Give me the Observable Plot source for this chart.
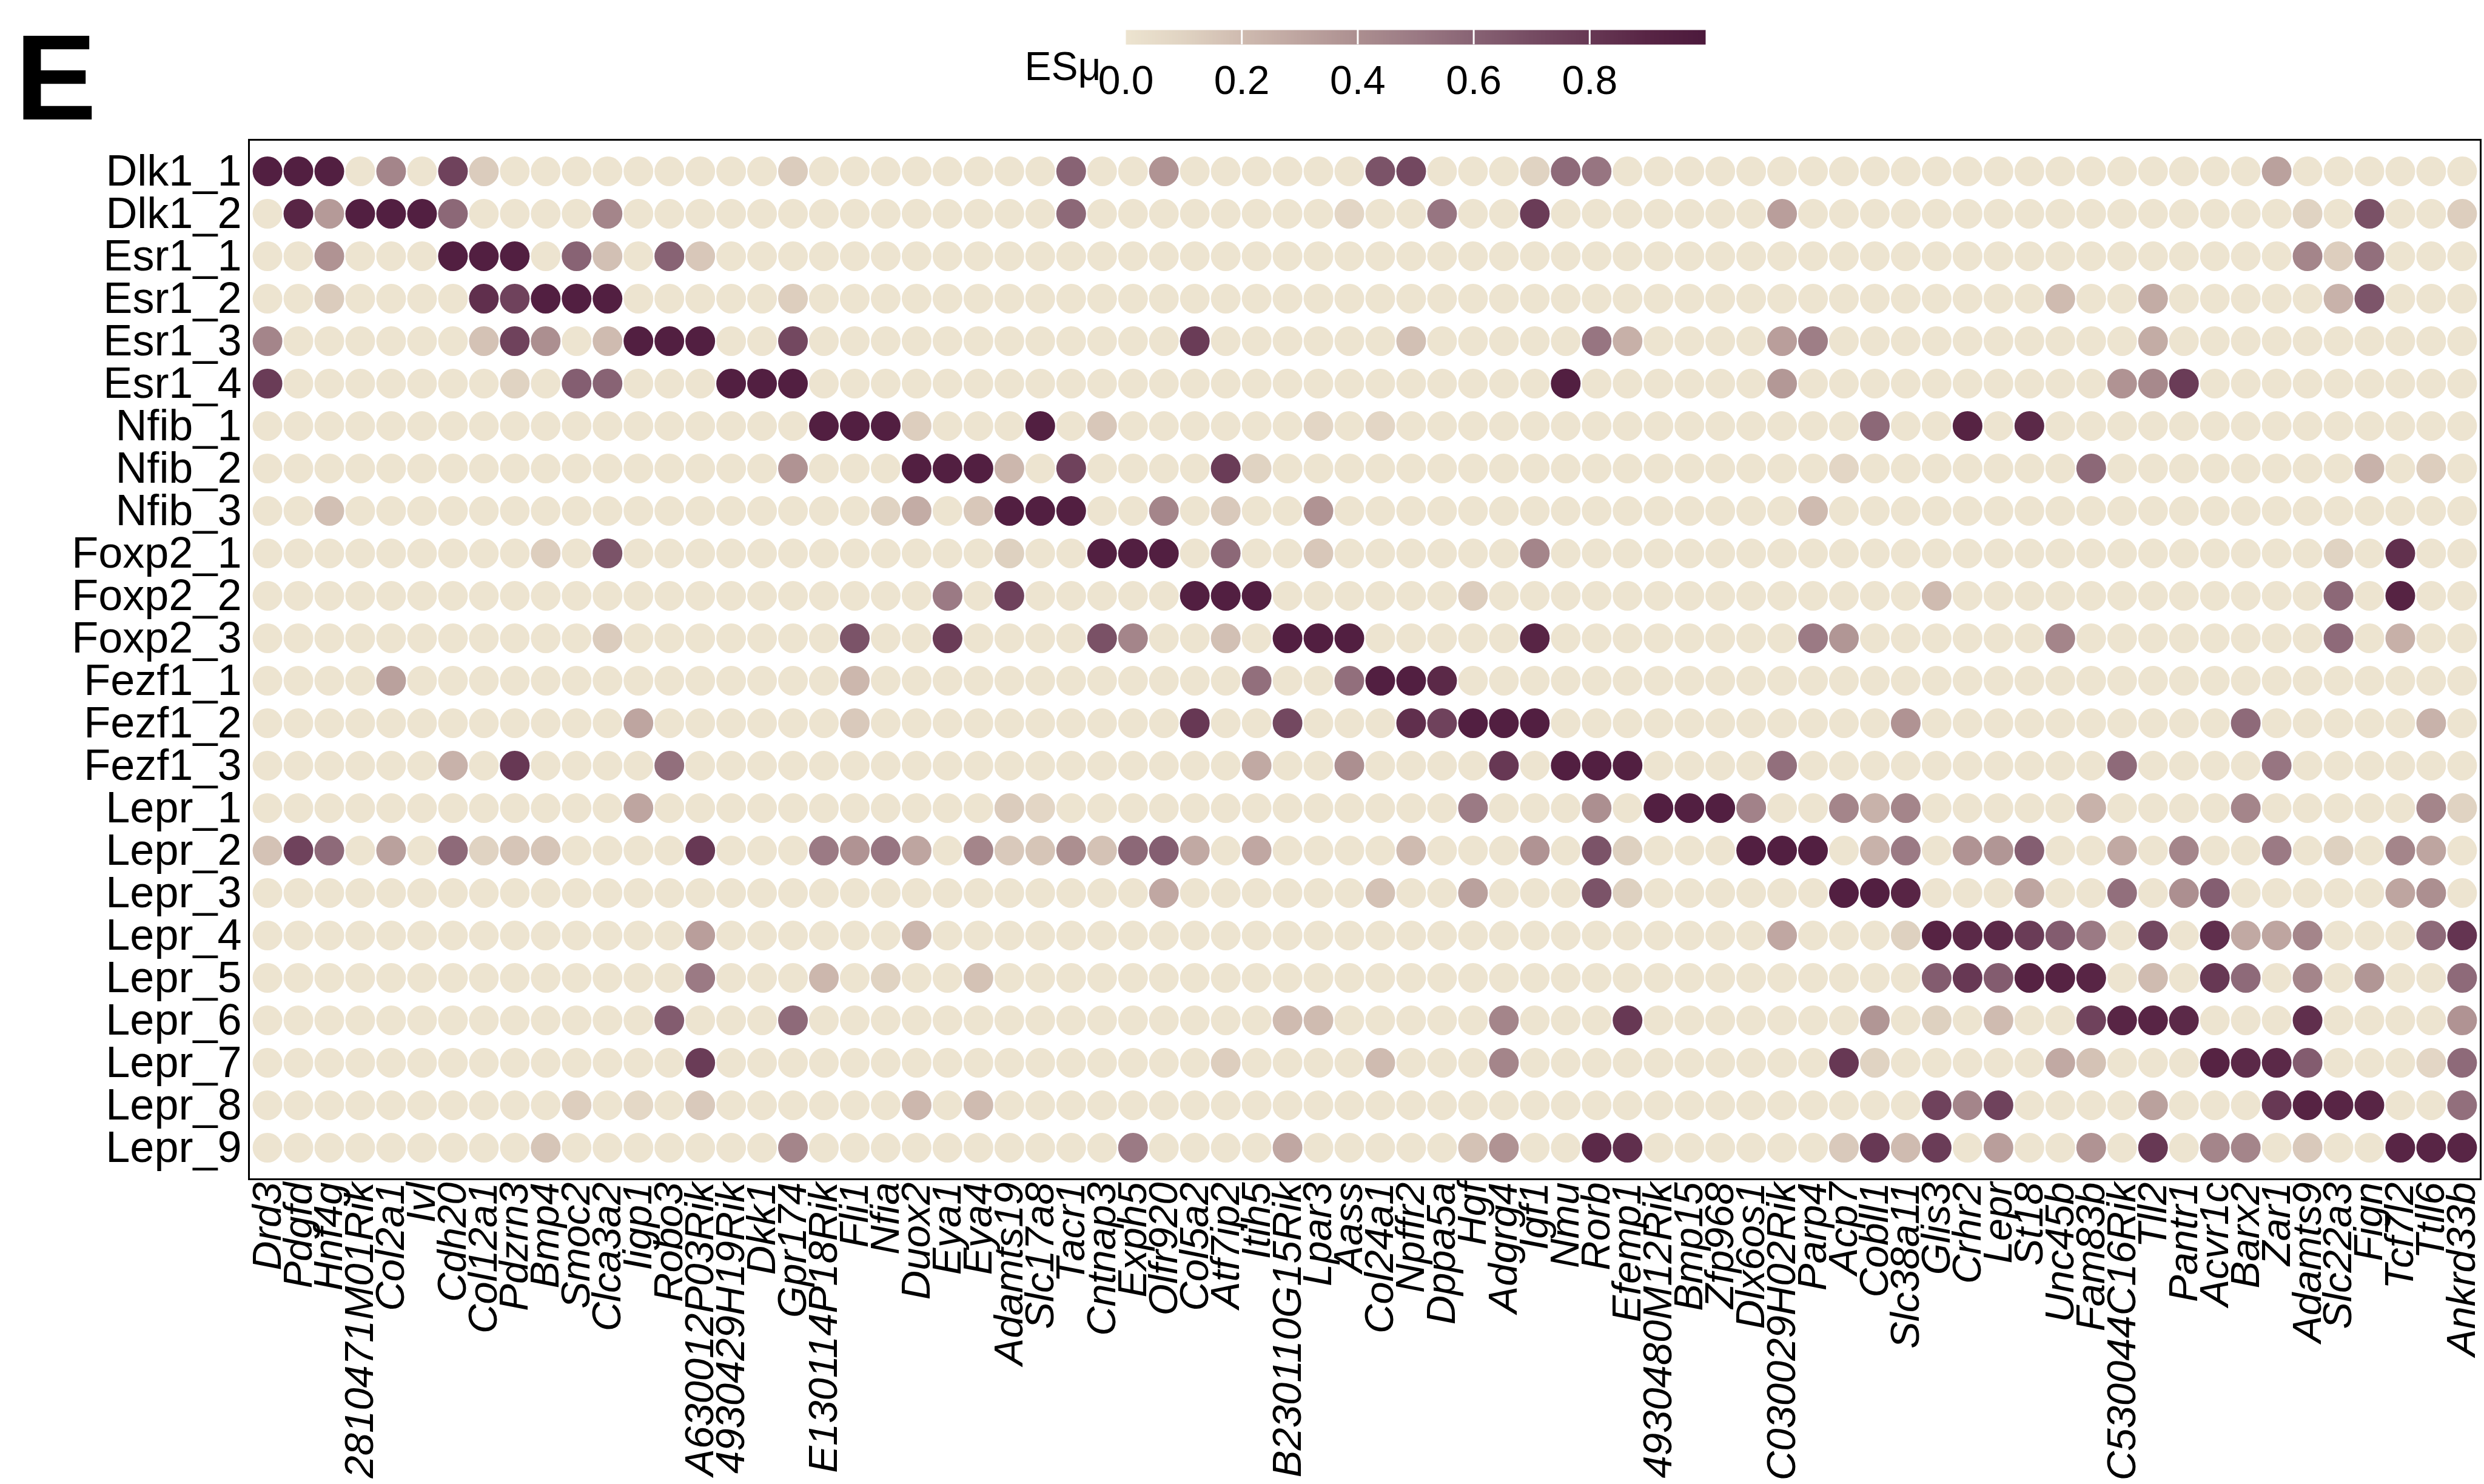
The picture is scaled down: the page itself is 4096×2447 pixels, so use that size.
<!DOCTYPE html>
<html>
<head>
<meta charset="utf-8">
<script src="https://cdn.jsdelivr.net/npm/d3@7"></script>
<script src="https://cdn.jsdelivr.net/npm/@observablehq/plot@0.6"></script>
<style>
  html, body { margin: 0; padding: 0; background: #fff; }
  #fig { position: relative; width: 4096px; height: 2447px; overflow: hidden;
         font-family: "Liberation Sans", Arial, Helvetica, sans-serif; }
  #fig > svg, #fig > div.layer { position: absolute; left: 0; top: 0; }
  #tag { position: absolute; left: 25px; top: 27px; font-size: 201px; line-height: 1;
         font-weight: bold; color: #000; }
</style>
</head>
<body>
<div id="fig"><div id="tag">E</div></div>
<script>
// Marker genes (columns) and clusters (rows)
const genes = ["Drd3","Pdgfd","Hnf4g","2810471M01Rik","Col2a1","Ivl","Cdh20","Col12a1",
  "Pdzrn3","Bmp4","Smoc2","Clca3a2","Iigp1","Robo3","A630012P03Rik","4930429H19Rik",
  "Dkk1","Gpr174","E130114P18Rik","Fli1","Nfia","Duox2","Eya1","Eya4",
  "Adamts19","Slc17a8","Tacr1","Cntnap3","Exph5","Olfr920","Col5a2","Atf7ip2",
  "Itih5","B230110G15Rik","Lpar3","Aass","Col24a1","Npffr2","Dppa5a","Hgf",
  "Adgrg4","Igf1","Nmu","Rorb","Efemp1","4930480M12Rik","Bmp15","Zfp968",
  "Dlx6os1","C030029H02Rik","Parp4","Acp7","Cobll1","Slc38a11","Glis3","Crhr2",
  "Lepr","St18","Unc45b","Fam83b","C530044C16Rik","Tll2","Pantr1","Acvr1c",
  "Barx2","Zar1","Adamts9","Slc22a3","Fign","Tcf7l2","Ttll6","Ankrd33b"];

const clusters = ["Dlk1_1","Dlk1_2","Esr1_1","Esr1_2","Esr1_3","Esr1_4",
  "Nfib_1","Nfib_2","Nfib_3","Foxp2_1","Foxp2_2","Foxp2_3",
  "Fezf1_1","Fezf1_2","Fezf1_3","Lepr_1","Lepr_2","Lepr_3",
  "Lepr_4","Lepr_5","Lepr_6","Lepr_7","Lepr_8","Lepr_9"];

// ESμ per cluster, one value per gene (same order as genes)
const dlk1_1 = [.95,.95,.95,0,.45,0,.75,.13, 0,0,0,0,0,0,0,0, 0,.13,0,0,0,0,0,0, 0,0,.6,0,0,.38,0,0, 0,0,0,0,.67,.72,0,0, 0,.1,.57,.52,0,0,0,0, 0,0,0,0,0,0,0,0, 0,0,0,0,0,0,0,0, 0,.32,0,0,0,0,0,0];
const dlk1_2 = [0,.9,.35,.95,.95,.95,.58,0, 0,0,0,.45,0,0,0,0, 0,0,0,0,0,0,0,0, 0,0,.58,0,0,0,0,0, 0,0,0,.08,0,0,.52,0, 0,.78,0,0,0,0,0,0, 0,.33,0,0,0,0,0,0, 0,0,0,0,0,0,0,0, 0,0,.1,0,.68,0,0,.12];
const esr1_1 = [0,0,.38,0,0,0,.95,.95, .95,0,.6,.18,0,.6,.15,0, 0,0,0,0,0,0,0,0, 0,0,0,0,0,0,0,0, 0,0,0,0,0,0,0,0, 0,0,0,0,0,0,0,0, 0,0,0,0,0,0,0,0, 0,0,0,0,0,0,0,0, 0,0,.45,.12,.55,0,0,0];
const esr1_2 = [0,0,.13,0,0,0,0,.85, .75,.95,.95,.95,0,0,0,0, 0,.12,0,0,0,0,0,0, 0,0,0,0,0,0,0,0, 0,0,0,0,0,0,0,0, 0,0,0,0,0,0,0,0, 0,0,0,0,0,0,0,0, 0,0,.2,0,0,.27,0,0, 0,0,0,.24,.66,0,0,0];
const esr1_3 = [.45,0,0,0,0,0,0,.17, .75,.4,0,.2,.95,.95,.95,0, 0,.72,0,0,0,0,0,0, 0,0,0,0,0,0,.78,0, 0,0,0,0,0,.18,0,0, 0,0,0,.52,.25,0,0,0, 0,.33,.48,0,0,0,0,0, 0,0,0,0,0,.27,0,0, 0,0,0,0,0,0,0,0];
const esr1_4 = [.78,0,0,0,0,0,0,0, .1,0,.62,.6,0,0,0,.95, .95,.95,0,0,0,0,0,0, 0,0,0,0,0,0,0,0, 0,0,0,0,0,0,0,0, 0,0,.95,0,0,0,0,0, 0,.36,0,0,0,0,0,0, 0,0,0,0,.38,.43,.78,0, 0,0,0,0,0,0,0,0];
const nfib_1 = [0,0,0,0,0,0,0,0, 0,0,0,0,0,0,0,0, 0,0,.95,.95,.95,.12,0,0, 0,.95,0,.15,0,0,0,0, 0,0,.08,0,.08,0,0,0, 0,0,0,0,0,0,0,0, 0,0,0,0,.58,0,0,.92, 0,.88,0,0,0,0,0,0, 0,0,0,0,0,0,0,0];
const nfib_2 = [0,0,0,0,0,0,0,0, 0,0,0,0,0,0,0,0, 0,.38,0,0,0,.95,.95,.95, .22,0,.75,0,0,0,0,.78, .1,0,0,0,0,0,0,0, 0,0,0,0,0,0,0,0, 0,0,0,.08,0,0,0,0, 0,0,0,.58,0,0,0,0, 0,0,0,0,.24,0,.12,0];
const nfib_3 = [0,0,.18,0,0,0,0,0, 0,0,0,0,0,0,0,0, 0,0,0,0,.1,.27,0,.15, .95,.95,.95,0,0,.45,0,.14, 0,0,.38,0,0,0,0,0, 0,0,0,0,0,0,0,0, 0,0,.2,0,0,0,0,0, 0,0,0,0,0,0,0,0, 0,0,0,0,0,0,0,0];
const foxp2_1 = [0,0,0,0,0,0,0,0, 0,.12,0,.67,0,0,0,0, 0,0,0,0,0,0,0,0, .11,0,0,.95,.95,.95,0,.58, 0,0,.15,0,0,0,0,0, 0,.45,0,0,0,0,0,0, 0,0,0,0,0,0,0,0, 0,0,0,0,0,0,0,0, 0,0,0,.1,0,.85,0,0];
const foxp2_2 = [0,0,0,0,0,0,0,0, 0,0,0,0,0,0,0,0, 0,0,0,0,0,0,.5,0, .75,0,0,0,0,0,.95,.95, .95,0,0,0,0,0,0,.12, 0,0,0,0,0,0,0,0, 0,0,0,0,0,0,.2,0, 0,0,0,0,0,0,0,0, 0,0,0,.58,0,.92,0,0];
const foxp2_3 = [0,0,0,0,0,0,0,0, 0,0,0,.13,0,0,0,0, 0,0,0,.67,0,0,.78,0, 0,0,0,.68,.45,0,0,.18, 0,.95,.95,.95,0,0,0,0, 0,.9,0,0,0,0,0,0, 0,0,.5,.37,0,0,0,0, 0,0,.45,0,0,0,0,0, 0,0,0,.57,0,.25,0,0];
const fezf1_1 = [0,0,0,0,.32,0,0,0, 0,0,0,0,0,0,0,0, 0,0,0,.22,0,0,0,0, 0,0,0,0,0,0,0,0, .55,0,0,.55,.95,.95,.88,0, 0,0,0,0,0,0,0,0, 0,0,0,0,0,0,0,0, 0,0,0,0,0,0,0,0, 0,0,0,0,0,0,0,0];
const fezf1_2 = [0,0,0,0,0,0,0,0, 0,0,0,0,.3,0,0,0, 0,0,0,.14,0,0,0,0, 0,0,0,0,0,0,.8,0, 0,.72,0,0,0,.85,.75,.95, .95,.95,0,0,0,0,0,0, 0,0,0,0,0,.38,0,0, 0,0,0,0,0,0,0,0, .57,0,0,0,0,0,.24,0];
const fezf1_3 = [0,0,0,0,0,0,.24,0, .8,0,0,0,0,.55,0,0, 0,0,0,0,0,0,0,0, 0,0,0,0,0,0,0,0, .28,0,0,.4,0,0,0,0, .8,0,.95,.95,.95,0,0,0, 0,.55,0,0,0,0,0,0, 0,0,0,0,.57,0,0,0, 0,.52,0,0,0,0,0,0];
const lepr_1 = [0,0,0,0,0,0,0,0, 0,0,0,0,.3,0,0,0, 0,0,0,0,0,0,0,0, .13,.08,0,0,0,0,0,0, 0,0,0,0,0,0,0,.5, 0,0,0,.4,0,.95,.95,.95, .46,0,0,.45,.24,.45,0,0, 0,0,0,.24,0,0,0,0, .45,0,0,0,0,0,.45,.1];
const lepr_2 = [.17,.75,.57,0,.32,0,.57,.1, .16,.16,0,0,0,0,.8,0, 0,0,.5,.38,.52,.3,0,.45, .14,.16,.4,.17,.58,.62,.28,0, .29,0,0,0,0,.2,0,0, 0,.38,0,.67,.11,0,0,0, .95,.95,.95,0,.24,.5,0,.38, .37,.62,0,0,.28,0,.45,0, 0,.5,0,.11,0,.45,.3,0];
const lepr_3 = [0,0,0,0,0,0,0,0, 0,0,0,0,0,0,0,0, 0,0,0,0,0,0,0,0, 0,0,0,0,0,.29,0,0, 0,0,0,0,.17,0,0,.32, 0,0,0,.67,.11,0,0,0, 0,0,0,.95,.95,.9,0,0, 0,.3,0,0,.55,0,.4,.62, 0,0,0,0,0,.3,.4,0];
const lepr_4 = [0,0,0,0,0,0,0,0, 0,0,0,0,0,0,.33,0, 0,0,0,0,0,.22,0,0, 0,0,0,0,0,0,0,0, 0,0,0,0,0,0,0,0, 0,0,0,0,0,0,0,0, 0,.29,0,0,0,.11,.92,.88, .88,.78,.63,.5,0,.72,0,.85, .28,.3,.45,0,0,0,.57,.82];
const lepr_5 = [0,0,0,0,0,0,0,0, 0,0,0,0,0,0,.5,0, 0,0,.22,0,.1,0,0,.17, 0,0,0,0,0,0,0,0, 0,0,0,0,0,0,0,0, 0,0,0,0,0,0,0,0, 0,0,0,0,0,0,.63,.8, .63,.92,.92,.9,0,.2,0,.8, .57,0,.45,0,.37,0,0,.57];
const lepr_6 = [0,0,0,0,0,0,0,0, 0,0,0,0,0,.63,0,0, 0,.57,0,0,0,0,0,0, 0,0,0,0,0,0,0,0, 0,.2,.2,0,0,0,0,0, .45,0,0,0,.8,0,0,0, 0,0,0,0,.37,0,.11,0, .2,0,0,.75,.9,.9,.88,0, 0,0,.85,0,0,0,0,.38];
const lepr_7 = [0,0,0,0,0,0,0,0, 0,0,0,0,0,0,.78,0, 0,0,0,0,0,0,0,0, 0,0,0,0,0,0,0,.12, 0,0,0,0,.2,0,0,0, .45,0,0,0,0,0,0,0, 0,0,0,.8,.1,0,0,0, 0,0,.28,.17,0,0,0,.92, .88,.88,.63,0,0,0,.08,.57];
const lepr_8 = [0,0,0,0,0,0,0,0, 0,0,.12,0,.07,0,.14,0, 0,0,0,0,0,.22,0,.2, 0,0,0,0,0,0,0,0, 0,0,0,0,0,0,0,0, 0,0,0,0,0,0,0,0, 0,0,0,0,0,0,.75,.45, .75,0,0,0,0,.32,0,0, 0,.8,.92,.9,.9,0,0,.55];
const lepr_9 = [0,0,0,0,0,0,0,0, 0,.16,0,0,0,0,0,0, 0,.45,0,0,0,0,0,0, 0,0,0,0,.5,0,0,0, 0,.29,0,0,0,0,0,.17, .38,0,0,.88,.85,0,0,0, 0,0,0,.14,.8,.2,.78,0, .33,0,0,.38,0,.8,0,.45, .45,0,.14,0,0,.9,.9,.9];

const rows = [dlk1_1, dlk1_2, esr1_1, esr1_2, esr1_3, esr1_4,
  nfib_1, nfib_2, nfib_3, foxp2_1, foxp2_2, foxp2_3,
  fezf1_1, fezf1_2, fezf1_3, lepr_1, lepr_2, lepr_3,
  lepr_4, lepr_5, lepr_6, lepr_7, lepr_8, lepr_9];

const legendTicks = [0, 0.2, 0.4, 0.6, 0.8];

// long-format table for the dot mark
const cells = [];
rows.forEach((vals, i) => vals.forEach((v, j) => cells.push({cluster: clusters[i], gene: genes[j], value: v})));

const FONT = "Liberation Sans, Arial, Helvetica, sans-serif";
const ramp = d3.piecewise(d3.interpolateRgb, [
  "#EDE4D0", "#E0D3C2", "#CFBBB0", "#BEA5A0", "#AC8F90", "#9B7A84",
  "#886374", "#764C63", "#673854", "#582545", "#4C193C"]);
const colorScale = {type: "linear", domain: [0, 1], interpolate: ramp, clamp: true};

const fig = document.getElementById("fig");

// dot matrix
const main = Plot.plot({
  width: 4096, height: 2447,
  marginLeft: 410, marginRight: 6, marginTop: 230, marginBottom: 503,
  style: {fontFamily: FONT, color: "#000", background: "transparent"},
  x: {type: "point", domain: genes, padding: 0.6},
  y: {type: "point", domain: clusters, padding: 0.6},
  color: colorScale,
  marks: [
    Plot.dot(cells, {x: "gene", y: "cluster", fill: "value", r: 24.5}),
    Plot.frame({stroke: "#000", strokeWidth: 3}),
    Plot.axisY({tickSize: 0, tickPadding: 12, fontSize: 72, label: null}),
    Plot.axisX({tickSize: 0, tickPadding: 5, tickRotate: -90, fontSize: 67, fontStyle: "italic", label: null})
  ]
});
fig.appendChild(main);

// colour bar for ESμ
const legend = Plot.plot({
  width: 4096, height: 230,
  marginLeft: 1856, marginRight: 1284, marginTop: 49, marginBottom: 157,
  style: {fontFamily: FONT, color: "#000", background: "transparent"},
  x: {domain: [0, 1]},
  y: {domain: [0, 1], axis: null},
  color: colorScale,
  marks: [
    Plot.raster({fill: (x, y) => x, x1: 0, x2: 1, y1: 0, y2: 1, width: 512, height: 1, imageRendering: "auto"}),
    Plot.ruleX(legendTicks.slice(1), {x: d => d, stroke: "#fff", strokeWidth: 3}),
    Plot.axisX({ticks: legendTicks, tickFormat: d3.format(".1f"), tickSize: 0, tickPadding: 35, fontSize: 66, label: null}),
    Plot.text([{v: 0, t: "ESμ"}], {x: "v", text: "t", frameAnchor: "bottom", textAnchor: "end", lineAnchor: "top", dx: -41, dy: 12, fontSize: 66})
  ]
});
fig.appendChild(legend);
</script>
</body>
</html>
